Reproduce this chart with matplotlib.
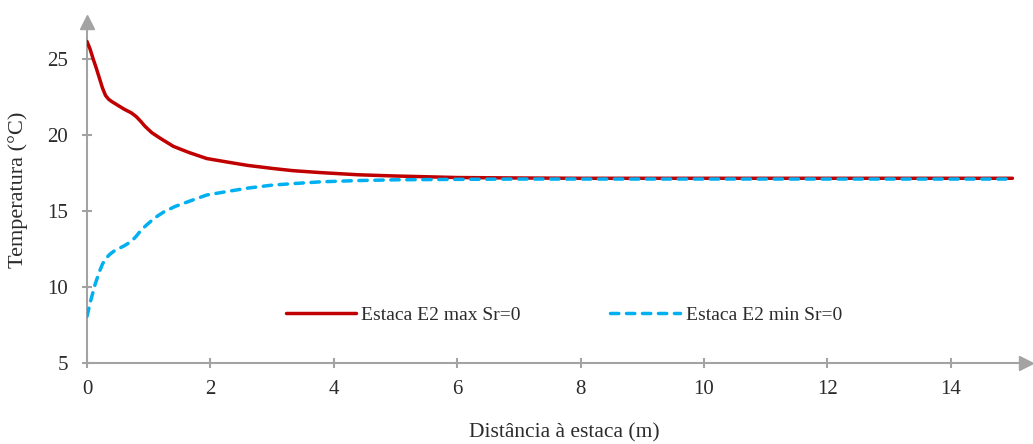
import matplotlib.pyplot as plt

# distance from pile (m) and temperatures (C)
dist_max = [0, 0.05, 0.1, 0.15, 0.2, 0.25, 0.3, 0.35, 0.4, 0.5, 0.6, 0.72, 0.8, 0.87,
            0.94, 1.05, 1.18, 1.4, 1.65, 1.94, 2.3, 2.6, 3.0, 3.34, 3.8, 4.4, 5.0, 6.0,
            7.0, 8.0, 10.0, 12.0, 15.0]
temp_max = [26.15, 25.65, 25.0, 24.4, 23.75, 23.1, 22.6, 22.35, 22.2, 21.95, 21.7, 21.45,
            21.2, 20.9, 20.57, 20.15, 19.8, 19.25, 18.85, 18.45, 18.2, 18.0, 17.8, 17.65,
            17.52, 17.38, 17.3, 17.2, 17.17, 17.15, 17.15, 17.15, 17.15]

dist_min = [0, 0.06, 0.13, 0.2, 0.25, 0.3, 0.37, 0.45, 0.6, 0.72, 0.8, 0.89, 1.0, 1.1,
            1.25, 1.43, 1.7, 1.94, 2.3, 2.6, 3.0, 3.34, 3.8, 4.4, 5.0, 6.0, 7.0, 8.0,
            10.0, 12.0, 15.0]
temp_min = [8.07, 9.1, 10.15, 11.0, 11.5, 11.85, 12.15, 12.4, 12.7, 13.0, 13.35, 13.8,
            14.2, 14.55, 14.95, 15.3, 15.7, 16.05, 16.3, 16.5, 16.7, 16.8, 16.92, 17.0,
            17.05, 17.08, 17.1, 17.1, 17.1, 17.1, 17.1]

xticks = [0, 2, 4, 6, 8, 10, 12, 14]
yticks = [5, 10, 15, 20, 25]

plt.rcParams['font.family'] = ['Liberation Serif', 'DejaVu Serif']

GREY = '#A3A3A3'
TXT = '#2b2b2b'

fig = plt.figure(figsize=(10.33, 4.44), dpi=100)
# axes box: x=0 at px 87, y=5 at px 363 (from top)
ax = fig.add_axes([87 / 1033, 81 / 444, 939 / 1033, 341 / 444])
ax.set_xlim(0, 15.22)
ax.set_ylim(5, 27.43)

ax.plot(dist_max, temp_max, color='#C00000', lw=2.5, solid_capstyle='round',
        solid_joinstyle='round', label='Estaca E2 max Sr=0', zorder=3)
blue, = ax.plot(dist_min, temp_min, color='#00B0F0', lw=2.5, dash_capstyle='round',
                dash_joinstyle='round', label='Estaca E2 min Sr=0', zorder=4)
blue.set_dashes((2.4, 2.2))

# axes drawn as arrows, like the spreadsheet original
for s in ax.spines.values():
    s.set_visible(False)
ax.plot([0, 1], [0, 0], transform=ax.transAxes, color=GREY, lw=1.5, clip_on=False)
ax.plot([0, 0], [0, 1], transform=ax.transAxes, color=GREY, lw=1.5, clip_on=False)
ax.plot([1], [0], marker='>', ms=9.5, color=GREY, transform=ax.transAxes, clip_on=False)
ax.plot([0], [1], marker='^', ms=9.5, color=GREY, transform=ax.transAxes, clip_on=False)

ax.set_xticks(xticks)
ax.set_yticks(yticks)
ax.tick_params(direction='inout', length=7, width=1.5, color=GREY,
               labelsize=15, labelcolor=TXT)
ax.tick_params(axis='x', pad=9)
ax.tick_params(axis='y', pad=10)

ax.set_xlabel('Distância à estaca (m)', fontsize=15.5, color=TXT)
ax.xaxis.set_label_coords(0.508, -0.205)
ax.xaxis.label.set_va('center')
ax.set_ylabel('Temperatura (°C)', fontsize=16, color=TXT)
ax.yaxis.set_label_coords(-0.073, 0.507)
ax.yaxis.label.set_va('center')

ax.legend(loc='center', bbox_to_anchor=(0.508, 0.141), ncol=2, frameon=False,
          fontsize=14, handlelength=3.6, handletextpad=0.3, columnspacing=4.6,
          labelcolor=TXT)

fig.savefig('out.png', dpi=100)
